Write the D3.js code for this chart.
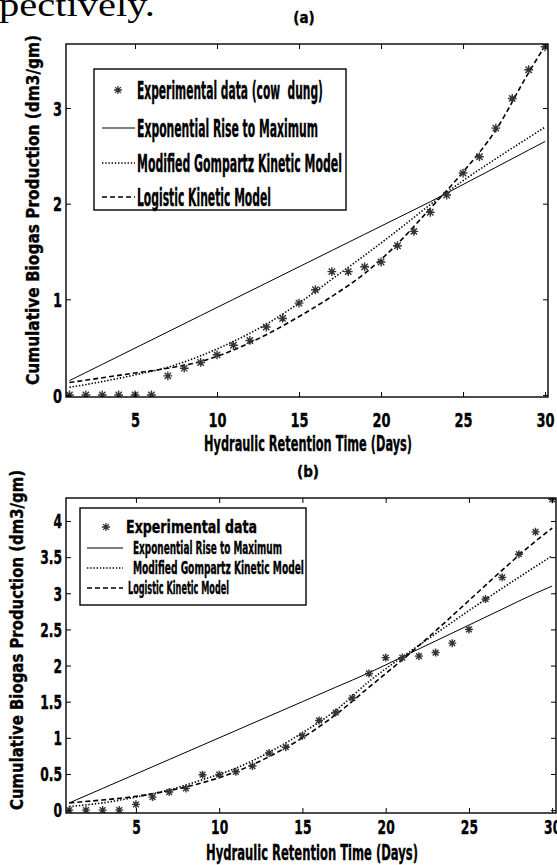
<!DOCTYPE html>
<html>
<head>
<meta charset="utf-8">
<script src="https://cdnjs.cloudflare.com/ajax/libs/d3/7.8.5/d3.min.js"></script>
<style>
body { margin: 0; background: #fff; }
svg text.lbl { font-family: "Liberation Sans Narrow", "DejaVu Sans Condensed", "Arial Narrow", sans-serif; font-weight: bold; fill: #000; stroke: #000; stroke-width: 0.35px; }
</style>
</head>
<body>
<svg id="fig" width="557" height="865"></svg>
<script>
// ---- data ----
var days = [1, 2, 3, 4, 5, 6, 7, 8, 9, 10, 11, 12, 13, 14, 15, 16, 17, 18, 19, 20, 21, 22, 23, 24, 25, 26, 27, 28, 29, 30];
var cowDung = [0, 0, 0, 0, 0, 0, 0.20, 0.28, 0.34, 0.42, 0.52, 0.57, 0.71, 0.80, 0.96, 1.10, 1.29, 1.29, 1.34, 1.39,
               1.56, 1.71, 1.91, 2.09, 2.32, 2.49, 2.79, 3.10, 3.40, 3.64];
var mixData = [0, 0, 0, 0, 0.08, 0.18, 0.25, 0.30, 0.49, 0.49, 0.53, 0.61, 0.79, 0.87, 1.03, 1.24, 1.35, 1.55, 1.89, 2.11,
               2.11, 2.13, 2.18, 2.31, 2.50, 2.92, 3.22, 3.54, 3.85, 4.30];

var modelDays = [1, 3, 5, 7, 9, 11, 13, 15, 17, 19, 21, 23, 25, 27, 29, 30];
var expoA = [0.15, 0.32, 0.49, 0.66, 0.83, 1.00, 1.17, 1.34, 1.51, 1.68, 1.85, 2.02, 2.20, 2.38, 2.56, 2.65];
var gompA = [0.08, 0.14, 0.21, 0.29, 0.41, 0.56, 0.74, 0.96, 1.21, 1.46, 1.72, 1.99, 2.24, 2.47, 2.69, 2.80];
var logiA = [0.13, 0.18, 0.23, 0.28, 0.35, 0.47, 0.63, 0.82, 1.03, 1.27, 1.58, 1.95, 2.33, 2.77, 3.37, 3.65];
var expoB = [0.10, 0.30, 0.50, 0.70, 0.90, 1.10, 1.30, 1.50, 1.70, 1.90, 2.12, 2.34, 2.56, 2.78, 3.00, 3.10];
var gompB = [0.05, 0.10, 0.18, 0.28, 0.42, 0.58, 0.80, 1.07, 1.38, 1.78, 2.12, 2.44, 2.76, 3.07, 3.37, 3.52];
var logiB = [0.10, 0.14, 0.19, 0.27, 0.38, 0.53, 0.74, 1.00, 1.32, 1.70, 2.08, 2.48, 2.90, 3.32, 3.72, 3.90];

var xTicks = [5, 10, 15, 20, 25, 30];
var yTicksA = [0, 1, 2, 3];
var yTicksB = [0, 0.5, 1, 1.5, 2, 2.5, 3, 3.5, 4];
var legendA = ["Experimental data (cow  dung)", "Exponential Rise to Maximum", "Modified Gompartz Kinetic Model", "Logistic Kinetic Model"];
var legendB = ["Experimental data", "Exponential Rise to Maximum", "Modified Gompartz Kinetic Model", "Logistic Kinetic Model"];

var xLabel = "Hydraulic Retention Time (Days)";
var yLabel = "Cumulative Biogas Production (dm3/gm)";

// ---- layout ----
var svg = d3.select("#fig");

svg.append("text")
    .attr("x", -1).attr("y", 16)
    .style("font-family", '"Liberation Serif", "DejaVu Serif", serif')
    .style("font-size", "34px")
    .attr("textLength", 156).attr("lengthAdjust", "spacingAndGlyphs")
    .text("pectively.");

var panels = [
    {
        id: "a", title: "(a)", titleY: 23,
        left: 66, right: 548, top: 44, bottom: 397,
        xDom: [0.79, 30.18], yDom: [-0.021, 3.669], yTicks: yTicksA,
        data: cowDung, expo: expoA, gomp: gompA, logi: logiA,
        tickSize: 20, xTickBase: 427,
        xTitleY: 451, xTitleW: 208, xTitleSize: 22,
        yTitleX: 39, yTitleY: 210, yTitleW: 350, yTitleSize: 18,
        marker: 4.4,
        legend: {
            labels: legendA, x0: 94, x1: 346, y0: 69, y1: 210,
            rows: [90, 128, 163, 197], textXs: [137, 137, 137, 137], widths: [186, 181, 205, 134],
            size: 25, lineX: [102, 135], markX: 118
        }
    },
    {
        id: "b", title: "(b)", titleY: 477,
        left: 66, right: 556, top: 498, bottom: 813,
        xDom: [0.8, 30.23], yDom: [-0.04, 4.318], yTicks: yTicksB,
        data: mixData, expo: expoB, gomp: gompB, logi: logiB,
        tickSize: 19, xTickBase: 834,
        xTitleY: 860, xTitleW: 212, xTitleSize: 22,
        yTitleX: 23, yTitleY: 640, yTitleW: 340, yTitleSize: 17,
        marker: 4,
        legend: {
            labels: legendB, x0: 80, x1: 306, y0: 508, y1: 605,
            rows: [527, 548, 568, 588], textXs: [126, 133, 133, 128], widths: [131, 149, 171, 101],
            size: 18, lineX: [87, 123], markX: 106
        }
    }
];

function asterisk(r) {
    var d = r * 0.72;
    return "M" + (-r) + ",0H" + r + "M0," + (-r) + "V" + r +
        "M" + (-d) + "," + (-d) + "L" + d + "," + d + "M" + (-d) + "," + d + "L" + d + "," + (-d);
}

function squeeze(sel, factor) {
    sel.each(function () {
        var w = this.getComputedTextLength();
        d3.select(this).attr("textLength", w * factor).attr("lengthAdjust", "spacingAndGlyphs");
    });
}

panels.forEach(function (p) {
    var x = d3.scaleLinear().domain(p.xDom).range([p.left, p.right]);
    var y = d3.scaleLinear().domain(p.yDom).range([p.bottom, p.top]);
    var g = svg.append("g");

    g.append("clipPath").attr("id", "clip" + p.id)
        .append("rect")
        .attr("x", p.left).attr("y", p.top)
        .attr("width", p.right - p.left).attr("height", p.bottom - p.top);

    // title
    g.append("text").attr("class", "lbl")
        .attr("x", (p.left + p.right) / 2 - 3).attr("y", p.titleY)
        .attr("text-anchor", "middle")
        .style("font-size", "15px")
        .text(p.title);

    var plot = g.append("g").attr("clip-path", "url(#clip" + p.id + ")");

    var line = d3.line()
        .x(function (d) { return x(d[0]); })
        .y(function (d) { return y(d[1]); })
        .curve(d3.curveMonotoneX);

    var models = [
        { vals: p.expo, dash: null, w: 1 },
        { vals: p.gomp, dash: "1.4,1.8", w: 1.6 },
        { vals: p.logi, dash: "5,3", w: 1.6 }
    ];
    models.forEach(function (m) {
        plot.append("path")
            .datum(d3.zip(modelDays, m.vals))
            .attr("d", line)
            .attr("fill", "none")
            .attr("stroke", "#000")
            .attr("stroke-width", m.w)
            .attr("stroke-dasharray", m.dash);
    });

    plot.selectAll("path.mark")
        .data(d3.zip(days, p.data))
        .enter().append("path")
        .attr("class", "mark")
        .attr("transform", function (d) { return "translate(" + x(d[0]) + "," + y(d[1]) + ")"; })
        .attr("d", asterisk(p.marker))
        .attr("fill", "none")
        .attr("stroke", "#333")
        .attr("stroke-width", 1.4);

    // axes, ticks pointing inward on all four sides
    var xb = g.append("g").attr("transform", "translate(0," + p.bottom + ")")
        .call(d3.axisBottom(x).tickValues(xTicks).tickSizeInner(-5).tickSizeOuter(0));
    xb.selectAll("text")
        .attr("class", "lbl")
        .attr("y", p.xTickBase - p.bottom).attr("dy", 0)
        .style("font-size", p.tickSize + "px")
        .call(squeeze, 0.72);

    g.append("g").attr("transform", "translate(0," + p.top + ")")
        .call(d3.axisTop(x).tickValues(xTicks).tickSizeInner(-5).tickSizeOuter(0).tickFormat(""));

    var yl = g.append("g").attr("transform", "translate(" + p.left + ",0)")
        .call(d3.axisLeft(y).tickValues(p.yTicks).tickSizeInner(-5).tickSizeOuter(0)
            .tickFormat(function (d) { return String(d); }));
    yl.selectAll("text")
        .attr("class", "lbl")
        .attr("x", -4).attr("dy", "0.36em")
        .style("font-size", p.tickSize + "px")
        .call(squeeze, 0.72);

    g.append("g").attr("transform", "translate(" + p.right + ",0)")
        .call(d3.axisRight(y).tickValues(p.yTicks).tickSizeInner(-5).tickSizeOuter(0).tickFormat(""));

    g.selectAll(".domain").remove();
    g.selectAll(".tick line").attr("stroke", "#000").attr("stroke-width", 1);

    g.append("rect")
        .attr("x", p.left).attr("y", p.top)
        .attr("width", p.right - p.left).attr("height", p.bottom - p.top)
        .attr("fill", "none").attr("stroke", "#000").attr("stroke-width", 1.4);

    // axis titles
    g.append("text").attr("class", "lbl")
        .attr("x", (p.left + p.right) / 2 + 1).attr("y", p.xTitleY)
        .attr("text-anchor", "middle")
        .style("font-size", p.xTitleSize + "px")
        .attr("textLength", p.xTitleW).attr("lengthAdjust", "spacingAndGlyphs")
        .text(xLabel);

    g.append("text").attr("class", "lbl")
        .attr("transform", "translate(" + p.yTitleX + "," + p.yTitleY + ") rotate(-90)")
        .attr("text-anchor", "middle")
        .style("font-size", p.yTitleSize + "px")
        .attr("textLength", p.yTitleW).attr("lengthAdjust", "spacingAndGlyphs")
        .text(yLabel);

    // legend
    var L = p.legend;
    var lg = g.append("g");
    lg.append("rect")
        .attr("x", L.x0).attr("y", L.y0)
        .attr("width", L.x1 - L.x0).attr("height", L.y1 - L.y0)
        .attr("fill", "#fff").attr("stroke", "#000").attr("stroke-width", 1.4);

    L.labels.forEach(function (lab, i) {
        var ry = L.rows[i];
        if (i === 0) {
            lg.append("path")
                .attr("transform", "translate(" + L.markX + "," + ry + ")")
                .attr("d", asterisk(4))
                .attr("fill", "none").attr("stroke", "#333").attr("stroke-width", 1.3);
        } else {
            var m = models[i - 1];
            lg.append("line")
                .attr("x1", L.lineX[0]).attr("x2", L.lineX[1])
                .attr("y1", ry).attr("y2", ry)
                .attr("stroke", "#000")
                .attr("stroke-width", m.w)
                .attr("stroke-dasharray", m.dash);
        }
        lg.append("text").attr("class", "lbl")
            .attr("x", L.textXs[i])
            .attr("y", ry).attr("dy", "0.36em")
            .style("font-size", L.size + "px")
            .style("white-space", "pre")
            .attr("textLength", L.widths[i]).attr("lengthAdjust", "spacingAndGlyphs")
            .text(lab);
    });
});
</script>
</body>
</html>
